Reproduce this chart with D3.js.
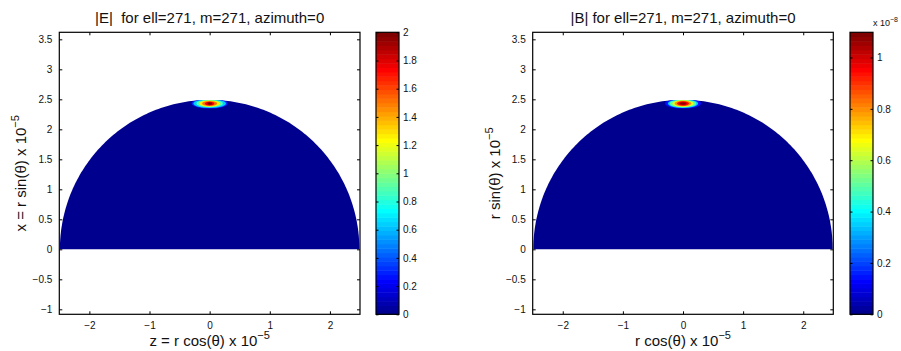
<!DOCTYPE html>
<html>
<head>
<meta charset="utf-8">
<script src="https://cdn.jsdelivr.net/npm/d3@7"></script>
<style>
  body { margin: 0; background: #fff; }
  svg { display: block; font-family: "Liberation Sans", Arial, Helvetica, sans-serif; }
</style>
</head>
<body>
<script>
'use strict';

// axis limits and ticks (units of 1e-5)
const xDomain = [-2.5, 2.5];
const yDomain = [-1.083, 3.617];
const xTicks = [-2, -1, 0, 1, 2];
const yTicks = [-1, -0.5, 0, 0.5, 1, 1.5, 2, 2.5, 3, 3.5];

// the field: a half disc at ~0 with one hot spot near the rim
const domeRadius = 2.49;
const spotCenter = [0, 2.43];

const eRings = [
  {v: 0.3, rx: 0.30, ry: 0.085},
  {v: 0.65, rx: 0.27, ry: 0.076},
  {v: 0.9, rx: 0.22, ry: 0.064},
  {v: 1.25, rx: 0.175, ry: 0.052},
  {v: 1.5, rx: 0.125, ry: 0.042},
  {v: 1.75, rx: 0.078, ry: 0.031},
  {v: 1.97, rx: 0.042, ry: 0.02}
];
const bRings = [
  {v: 0.15, rx: 0.30, ry: 0.085},
  {v: 0.35, rx: 0.25, ry: 0.076},
  {v: 0.5, rx: 0.22, ry: 0.066},
  {v: 0.65, rx: 0.18, ry: 0.056},
  {v: 0.8, rx: 0.14, ry: 0.046},
  {v: 0.95, rx: 0.10, ry: 0.036},
  {v: 1.07, rx: 0.055, ry: 0.022}
];

const eRange = [0, 2];
const bRange = [0, 1.098];
const eBarTicks = [0, 0.2, 0.4, 0.6, 0.8, 1, 1.2, 1.4, 1.6, 1.8, 2];
const bBarTicks = [0, 0.2, 0.4, 0.6, 0.8, 1];

// matlab jet(64)
const jet = d3.range(64).map(i => {
  const t = (i + 1) / 64;
  const c = x => Math.round(255 * Math.max(0, Math.min(1, x)));
  return d3.rgb(c(1.5 - Math.abs(4 * t - 3)), c(1.5 - Math.abs(4 * t - 2)), c(1.5 - Math.abs(4 * t - 1))).toString();
});

const fmt = d => (d < 0 ? "\u2212" : "") + Math.abs(d);

const svg = d3.select("body").append("svg")
  .attr("width", 901)
  .attr("height", 351);

const panels = [
  {left: 59.3, right: 360, bar: 376, title: "|E|  for ell=271, m=271, azimuth=0",
   ylab: "x = r sin(\u03b8) x 10", xlab: "z = r cos(\u03b8) x 10",
   rings: eRings, range: eRange, barTicks: eBarTicks, exp: null},
  {left: 532.7, right: 833.3, bar: 850, title: "|B| for ell=271, m=271, azimuth=0",
   ylab: "r sin(\u03b8) x 10", xlab: "r cos(\u03b8) x 10",
   rings: bRings, range: bRange, barTicks: bBarTicks, exp: "\u22128"}
];

const axTop = 32.3, axBottom = 314.3;

panels.forEach((p, pi) => {
  const x = d3.scaleLinear().domain(xDomain).range([p.left, p.right]);
  const y = d3.scaleLinear().domain(yDomain).range([axBottom, axTop]);
  const color = d3.scaleQuantize().domain(p.range).range(jet);
  const g = svg.append("g");

  // half disc
  const dome = d3.line()
    .x(a => x(domeRadius * Math.cos(a)))
    .y(a => y(domeRadius * Math.sin(a)));
  const angles = d3.range(0, 181).map(k => Math.PI * k / 180);
  const domePath = dome(angles) + "Z";

  g.append("clipPath").attr("id", "dome" + pi)
    .append("path").attr("d", domePath);

  g.append("path")
    .attr("d", domePath)
    .attr("fill", color(0));

  g.append("g").attr("clip-path", `url(#dome${pi})`)
    .selectAll("ellipse")
    .data(p.rings)
    .join("ellipse")
    .attr("cx", x(spotCenter[0]))
    .attr("cy", y(spotCenter[1]))
    .attr("rx", d => x(d.rx) - x(0))
    .attr("ry", d => y(0) - y(d.ry))
    .attr("fill", d => color(d.v));

  // box + inward ticks
  const tl = 3;
  const axes = [
    {ax: d3.axisBottom(x).tickValues(xTicks).tickFormat(fmt), t: axBottom},
    {ax: d3.axisTop(x).tickValues(xTicks).tickFormat(""), t: axTop},
    {ax: d3.axisLeft(y).tickValues(yTicks).tickFormat(fmt), t: p.left, v: true},
    {ax: d3.axisRight(y).tickValues(yTicks).tickFormat(""), t: p.right, v: true}
  ];
  axes.forEach(a => {
    a.ax.tickSizeInner(-tl).tickSizeOuter(0).tickPadding(a.v ? 7 : 8);
    const ag = g.append("g")
      .attr("transform", a.v ? `translate(${a.t},0)` : `translate(0,${a.t})`)
      .call(a.ax);
    ag.select(".domain").remove();
    ag.selectAll("line").attr("stroke", "#000");
    ag.selectAll("text").attr("fill", "#111").style("font-size", "10px")
      .style("font-family", "Liberation Sans, Arial, sans-serif");
  });

  g.append("rect")
    .attr("x", p.left).attr("y", axTop)
    .attr("width", p.right - p.left).attr("height", axBottom - axTop)
    .attr("fill", "none").attr("stroke", "#000").attr("stroke-width", 1.2);

  // title
  g.append("text")
    .attr("x", (p.left + p.right) / 2).attr("y", 23)
    .attr("text-anchor", "middle")
    .style("font-size", "15px")
    .style("white-space", "pre")
    .attr("fill", "#111")
    .text(p.title);

  // x label
  const xl = g.append("text")
    .attr("x", (p.left + p.right) / 2).attr("y", 346)
    .attr("text-anchor", "middle")
    .style("font-size", "15px")
    .attr("fill", "#111");
  xl.append("tspan").text(p.xlab);
  xl.append("tspan").attr("dy", -7).style("font-size", "11px").text("\u22125");

  // y label
  const yl = g.append("text")
    .attr("transform", `translate(${p.left - 33},${(axTop + axBottom) / 2}) rotate(-90)`)
    .attr("text-anchor", "middle")
    .style("font-size", "15px")
    .attr("fill", "#111");
  yl.append("tspan").text(p.ylab);
  yl.append("tspan").attr("dy", -7).style("font-size", "11px").text("\u22125");

  // colour bar
  const barW = 23;
  const cy = d3.scaleLinear().domain(p.range).range([axBottom, axTop]);
  const bands = d3.range(64).map(i => p.range[0] + (p.range[1] - p.range[0]) * i / 64);
  const step = (p.range[1] - p.range[0]) / 64;
  g.append("g").selectAll("rect")
    .data(bands)
    .join("rect")
    .attr("x", p.bar)
    .attr("y", d => cy(d + step))
    .attr("width", barW)
    .attr("height", d => cy(d) - cy(d + step) + 0.5)
    .attr("fill", d => color(d + step / 2));

  const br = g.append("g").attr("transform", `translate(${p.bar + barW},0)`)
    .call(d3.axisRight(cy).tickValues(p.barTicks).tickFormat(d => d)
      .tickSizeInner(-2.5).tickSizeOuter(0).tickPadding(4));
  br.select(".domain").remove();
  br.selectAll("line").attr("stroke", "#000");
  br.selectAll("text").attr("fill", "#111").style("font-size", "10px")
    .style("font-family", "Liberation Sans, Arial, sans-serif");

  const bl = g.append("g").attr("transform", `translate(${p.bar},0)`)
    .call(d3.axisLeft(cy).tickValues(p.barTicks).tickFormat("")
      .tickSizeInner(-2.5).tickSizeOuter(0));
  bl.select(".domain").remove();
  bl.selectAll("line").attr("stroke", "#000");

  g.append("rect")
    .attr("x", p.bar).attr("y", axTop)
    .attr("width", barW).attr("height", axBottom - axTop)
    .attr("fill", "none").attr("stroke", "#000").attr("stroke-width", 1.2);

  if (p.exp) {
    const ex = g.append("text")
      .attr("x", p.bar + barW).attr("y", 26)
      .style("font-size", "9px")
      .attr("fill", "#111");
    ex.append("tspan").text("x 10");
    ex.append("tspan").attr("dy", -4).style("font-size", "7px").text(p.exp);
  }
});
</script>
</body>
</html>
